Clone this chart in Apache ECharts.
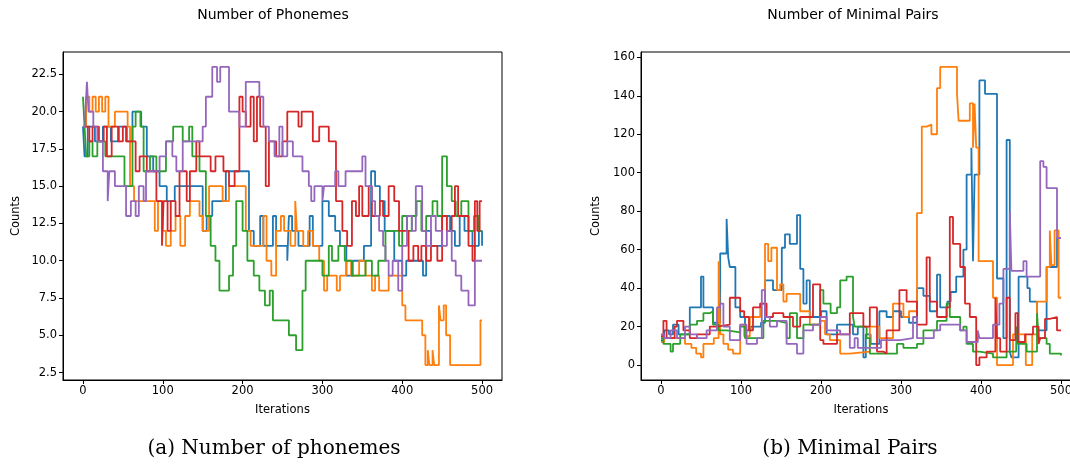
<!DOCTYPE html>
<html>
<head>
<meta charset="utf-8">
<script src="https://cdn.jsdelivr.net/npm/echarts/dist/echarts.min.js"></script>
<style>
  html, body { margin: 0; padding: 0; background: #fff; }
  #chart { width: 1070px; height: 464px; }
</style>
</head>
<body>
<div id="chart"></div>
<script>
// tick labels
var xTicks = [0, 100, 200, 300, 400, 500];
var yTicksPhon = [2.5, 5, 7.5, 10, 12.5, 15, 17.5, 20, 22.5];
var yTicksPairs = [0, 20, 40, 60, 80, 100, 120, 140, 160];
var seriesNames = ['run 1', 'run 2', 'run 3', 'run 4', 'run 5'];
var colors = ['#1f77b4', '#ff7f0e', '#2ca02c', '#d62728', '#9467bd'];

// (a) number of phonemes: [iteration, value] at each change
var phonBlue = [[0,19],[2,17],[6,19],[15,18],[25,19],[35,18],[45,19],[55,18],[62,20],[73,19],[80,17],[88,16],[96,15],[105,14],[115,15],[130,15],[150,12],[155,13],[162,14],[179,16],[208,12],[214,11],[222,13],[226,11],[238,13],[242,11],[256,10],[258,13],[262,12],[270,11],[284,13],[288,11],[300,14],[308,13],[316,12],[322,11],[330,9],[338,10],[346,10],[352,11],[361,16],[366,15],[372,14],[378,12],[390,10],[400,9],[405,10],[420,10],[426,9],[430,12],[436,11],[450,13],[460,12],[466,11],[472,13],[478,12],[488,11],[496,12],[500,11]];
var phonOrange = [[0,19],[4,21],[8,20],[12,21],[16,20],[20,21],[24,20],[28,21],[32,19],[40,20],[56,19],[59,15],[64,14],[84,14],[90,12],[94,14],[100,12],[104,11],[110,12],[116,13],[122,11],[128,13],[134,14],[146,13],[150,12],[158,15],[175,14],[183,15],[204,12],[210,11],[226,13],[230,10],[236,9],[242,12],[248,13],[252,12],[260,11],[266,14],[268,12],[276,11],[282,12],[288,11],[296,10],[302,8],[306,9],[318,8],[322,9],[330,10],[336,9],[346,10],[354,9],[362,8],[366,9],[371,8],[383,9],[400,7],[404,6],[425,5],[429,3],[432,4],[434,3],[438,4],[440,3],[446,7],[448,6],[452,7],[455,5],[460,3],[498,6],[500,6]];
var phonGreen = [[0,21],[2,19],[4,17],[8,18],[12,17],[18,18],[28,17],[52,15],[62,19],[66,20],[72,19],[76,16],[84,17],[92,16],[104,18],[113,19],[125,18],[133,19],[137,17],[146,16],[154,13],[160,11],[166,10],[171,8],[183,9],[188,11],[192,14],[200,12],[206,10],[214,9],[221,8],[228,7],[234,8],[238,6],[258,5],[267,4],[275,8],[279,10],[300,9],[308,11],[312,10],[320,11],[328,10],[337,9],[354,10],[362,9],[370,10],[379,12],[396,11],[400,13],[406,12],[412,13],[418,14],[424,12],[430,13],[438,14],[444,13],[450,17],[456,15],[462,14],[467,13],[474,14],[483,12],[490,13],[496,12],[500,12]];
var phonRed = [[0,19],[8,18],[12,19],[20,18],[26,19],[30,17],[36,19],[44,18],[50,19],[54,18],[66,16],[71,17],[80,16],[92,14],[99,11],[101,14],[106,12],[110,14],[116,13],[121,16],[130,14],[134,16],[142,18],[146,17],[160,16],[166,17],[176,16],[183,15],[190,16],[196,21],[200,20],[204,19],[210,21],[214,18],[218,21],[222,19],[229,15],[233,18],[242,17],[250,18],[256,20],[270,19],[274,20],[288,18],[296,19],[308,18],[317,14],[325,12],[331,11],[337,14],[342,13],[346,15],[350,13],[358,15],[362,13],[372,14],[376,13],[383,15],[390,14],[396,12],[408,10],[414,11],[420,10],[424,11],[430,10],[436,11],[444,10],[450,13],[456,12],[462,13],[466,15],[470,13],[483,11],[488,10],[491,14],[494,12],[497,14],[500,14]];
var phonPurple = [[0,19],[3,20],[5,22],[7,20],[13,19],[18,18],[25,16],[31,14],[33,16],[40,15],[54,13],[60,14],[66,13],[70,15],[76,14],[79,16],[96,17],[104,18],[112,17],[117,16],[125,18],[150,19],[154,21],[162,23],[168,22],[172,23],[183,20],[196,19],[204,22],[221,21],[226,19],[233,18],[240,17],[246,19],[250,17],[256,18],[263,17],[275,16],[283,15],[286,14],[290,15],[300,14],[302,15],[316,16],[320,15],[329,16],[350,17],[354,15],[362,14],[366,13],[371,12],[376,11],[379,10],[383,9],[388,10],[395,8],[400,11],[406,13],[412,12],[417,15],[425,12],[430,11],[436,13],[442,12],[450,11],[456,12],[462,10],[467,9],[474,8],[483,7],[491,10],[500,10]];

// (b) number of minimal pairs
var pairsBlue = [[0,13],[4,18],[10,16],[15,21],[22,16],[36,30],[50,46],[53,30],[65,22],[74,58],[82,76],[84,56],[86,51],[93,30],[99,25],[105,18],[112,20],[125,22],[130,44],[140,39],[151,61],[155,68],[161,63],[170,78],[174,50],[178,32],[182,44],[186,25],[200,28],[207,16],[220,21],[240,16],[246,20],[253,4],[256,16],[262,11],[273,28],[282,25],[290,28],[300,25],[310,22],[320,40],[328,36],[336,28],[345,47],[349,30],[358,33],[362,38],[369,46],[378,60],[382,99],[388,113],[390,54],[392,99],[398,148],[405,141],[420,45],[428,14],[432,117],[436,7],[438,4],[447,46],[458,40],[461,33],[470,18],[482,51],[495,66],[500,66]];
var pairsOrange = [[0,12],[4,14],[20,14],[30,11],[38,9],[44,6],[50,4],[53,11],[66,14],[72,54],[74,16],[78,11],[84,8],[90,6],[99,21],[104,15],[111,25],[124,32],[130,63],[134,54],[138,61],[145,39],[149,42],[153,33],[157,37],[174,28],[186,21],[199,23],[205,16],[211,13],[224,6],[236,7],[261,20],[273,14],[290,32],[303,25],[310,28],[320,79],[326,124],[332,125],[338,120],[345,144],[349,155],[370,141],[372,127],[386,136],[390,113],[392,136],[394,113],[397,54],[415,35],[420,0],[440,16],[456,0],[464,16],[470,33],[482,51],[486,70],[488,52],[492,70],[497,35],[500,35]];
var pairsGreen = [[0,14],[3,11],[12,7],[15,11],[24,16],[36,21],[45,23],[53,27],[61,28],[65,21],[72,18],[82,17],[99,20],[105,14],[128,23],[145,22],[157,14],[161,27],[170,14],[178,21],[199,39],[203,32],[212,27],[220,30],[224,44],[232,46],[240,25],[242,20],[257,14],[261,6],[295,11],[303,9],[320,11],[328,18],[345,23],[357,32],[361,25],[374,18],[378,20],[382,11],[390,7],[398,6],[415,4],[432,7],[444,20],[446,11],[457,7],[470,27],[472,14],[482,11],[486,6],[500,5]];
var pairsRed = [[0,15],[3,23],[7,14],[17,20],[20,23],[28,18],[36,14],[45,16],[61,20],[70,21],[86,35],[99,28],[104,25],[110,18],[115,30],[124,32],[132,25],[140,27],[153,25],[165,20],[174,25],[190,42],[199,13],[203,11],[220,16],[236,27],[253,20],[261,30],[270,7],[278,6],[282,18],[298,39],[307,33],[320,21],[332,56],[336,33],[345,25],[357,30],[361,77],[365,63],[374,51],[380,32],[386,25],[394,0],[398,4],[407,7],[418,35],[420,14],[424,7],[432,35],[436,13],[443,27],[446,12],[455,16],[465,20],[472,11],[474,14],[480,24],[486,25],[495,18],[500,18]];
var pairsPurple = [[0,16],[4,14],[12,18],[20,14],[30,20],[36,16],[45,14],[57,18],[70,30],[74,32],[78,20],[86,13],[99,21],[107,11],[120,14],[126,39],[130,25],[136,20],[145,23],[157,11],[170,6],[178,18],[190,21],[199,25],[207,18],[224,16],[236,9],[242,14],[246,9],[275,13],[299,14],[315,25],[320,14],[341,18],[349,21],[374,18],[382,12],[396,18],[398,14],[415,21],[423,32],[428,50],[436,80],[438,49],[453,54],[457,46],[474,106],[478,103],[482,92],[495,66],[500,66]];

var phonData = [phonBlue, phonOrange, phonGreen, phonRed, phonPurple];
var pairsData = [pairsBlue, pairsOrange, pairsGreen, pairsRed, pairsPurple];

var tickFont = { fontFamily: 'DejaVu Sans', fontSize: 11.5, color: '#000' };

function makeX(idx) {
    return {
        type: 'value', gridIndex: idx, min: -25, max: 525,
        name: 'Iterations', nameLocation: 'middle', nameGap: 24,
        nameTextStyle: tickFont,
        axisLine: { show: true, onZero: false, lineStyle: { color: '#000', width: 1 } },
        axisTick: { show: true, inside: false, length: 4, lineStyle: { color: '#000' }, customValues: xTicks },
        axisLabel: Object.assign({ margin: 5, customValues: xTicks }, tickFont),
        splitLine: { show: false }
    };
}

function makeY(idx, min, max, ticks, fmt, gap) {
    return {
        type: 'value', gridIndex: idx, min: min, max: max,
        name: 'Counts', nameLocation: 'middle', nameGap: gap,
        nameTextStyle: tickFont,
        axisLine: { show: true, onZero: false, lineStyle: { color: '#000', width: 1 } },
        axisTick: { show: true, inside: false, length: 4, lineStyle: { color: '#000' }, customValues: ticks },
        axisLabel: Object.assign({ margin: 6, customValues: ticks, formatter: fmt }, tickFont),
        splitLine: { show: false }
    };
}

var series = [];
phonData.forEach(function (d, i) {
    series.push({
        name: seriesNames[i], type: 'line', xAxisIndex: 0, yAxisIndex: 0,
        data: d, step: 'end', showSymbol: false, symbol: 'none',
        lineStyle: { width: 1.8, color: colors[i] }, itemStyle: { color: colors[i] }
    });
});
pairsData.forEach(function (d, i) {
    series.push({
        name: seriesNames[i], type: 'line', xAxisIndex: 1, yAxisIndex: 1,
        data: d, step: 'end', showSymbol: false, symbol: 'none',
        lineStyle: { width: 1.8, color: colors[i] }, itemStyle: { color: colors[i] }
    });
});

function label(x, y, text, font) {
    return {
        type: 'text', x: x, y: y,
        style: { text: text, font: font, fill: '#000', textAlign: 'center', textVerticalAlign: 'middle', align: 'center', verticalAlign: 'middle' }
    };
}

var myChart = echarts.init(document.getElementById('chart'), null, { renderer: 'canvas' });
var option = {
    animation: false,
    backgroundColor: '#fff',
    grid: [
        { left: 63, top: 52, width: 439, height: 328, show: true, borderColor: '#000', borderWidth: 1, containLabel: false, outerBoundsMode: 'none' },
        { left: 641, top: 52, width: 440, height: 328, show: true, borderColor: '#000', borderWidth: 1, containLabel: false, outerBoundsMode: 'none' }
    ],
    xAxis: [makeX(0), makeX(1)],
    yAxis: [
        makeY(0, 2, 24, yTicksPhon, function (v) { return v.toFixed(1); }, 41),
        makeY(1, -7.75, 162.75, yTicksPairs, function (v) { return String(v); }, 39)
    ],
    graphic: [
        label(273, 15, 'Number of Phonemes', '14px "DejaVu Sans"'),
        label(853, 15, 'Number of Minimal Pairs', '14px "DejaVu Sans"'),
        label(274, 449, '(a) Number of phonemes', '20px "DejaVu Serif"'),
        label(850, 449, '(b) Minimal Pairs', '20px "DejaVu Serif"')
    ],
    series: series
};
myChart.setOption(option);
</script>
</body>
</html>
